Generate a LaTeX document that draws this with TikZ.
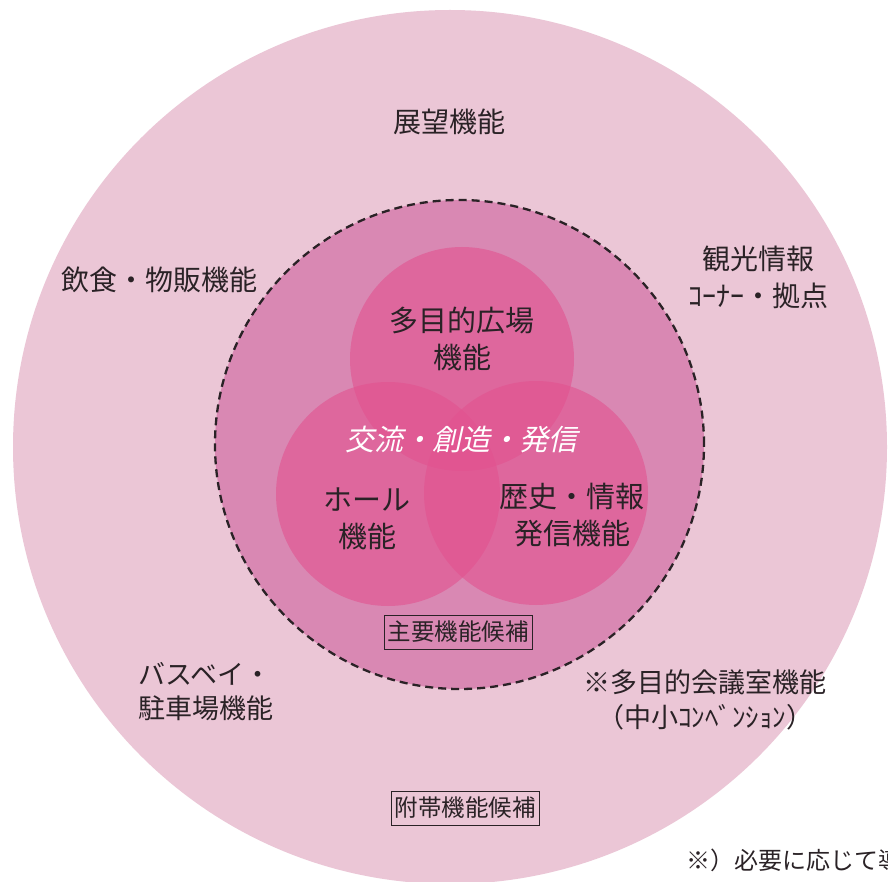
\documentclass[tikz,border=0pt]{standalone}
\usepackage{fontspec}
\setmainfont{Noto Sans CJK JP}
\newfontfamily\slantfont[FakeSlant=0.22]{Noto Sans CJK JP}
\definecolor{bgpink}{HTML}{EBC6D6}
\definecolor{midpink}{HTML}{D988B3}
\definecolor{hotpink}{HTML}{E2528F}
\definecolor{ink}{HTML}{2A2226}
\begin{document}
\lineskiplimit=-50pt\relax
\begin{tikzpicture}[x=1pt,y=-1pt,
  lbl/.style={text=ink, align=center, inner sep=0pt,
    font=\fontsize{28}{37}\selectfont},
  vlbl/.style={lbl, font=\fontsize{29}{37}\selectfont},
  boxlbl/.style={draw=ink, line width=0.9pt, text=ink, inner xsep=3.5pt, inner ysep=5.5pt,
    text height=20pt, text depth=3pt, font=\fontsize{23.5}{26}\selectfont},
  venn/.style={fill=hotpink, fill opacity=0.6}]
\clip (0,0) rectangle (888,882);
\fill[white] (0,0) rectangle (888,882);
% outer circle
\fill[bgpink] (450,447) circle (437pt);
% dashed main circle
\filldraw[fill=midpink, draw=ink, line width=2.3pt, dash pattern=on 8pt off 5pt] (459.5,444.5) circle (244.5pt);
% venn circles
\fill[venn] (462,359) circle (112pt);
\fill[venn] (388,494) circle (112pt);
\fill[venn] (536,493) circle (112pt);
% labels
\node[lbl] (tenbou) at (449,122) {展望機能};
\node[lbl] (inshoku) at (159,280) {飲食・物販機能};
\node[lbl] (kanko) at (758,277) {観光情報\\ｺｰﾅｰ・拠点};
\node[vlbl] (hiroba) at (462,339) {多目的広場\\機能};
\node[lbl, text=white, font=\slantfont\fontsize{29}{34}\selectfont] (koryu) at (461,440) {交流・創造・発信};
\node[vlbl] (hall) at (367,519) {ホール\\機能};
\node[vlbl] (rekishi) at (572,515) {歴史・情報\\発信機能};
\node[boxlbl] (shuyo) at (458,632) {主要機能候補};
\node[lbl, align=left, anchor=west, font=\fontsize{27}{34}\selectfont] (bus) at (138,692) {バスベイ・\\駐車場機能};
\node[lbl, font=\fontsize{27}{35}\selectfont] (kaigi) at (705,700) {※多目的会議室機能\\（中小ｺﾝﾍﾞﾝｼｮﾝ）};
\node[boxlbl] (futai) at (465,808) {附帯機能候補};
\node[lbl, anchor=west, font=\fontsize{24}{28}\selectfont] (note) at (686,860) {※）必要に応じて導};
\end{tikzpicture}
\end{document}
